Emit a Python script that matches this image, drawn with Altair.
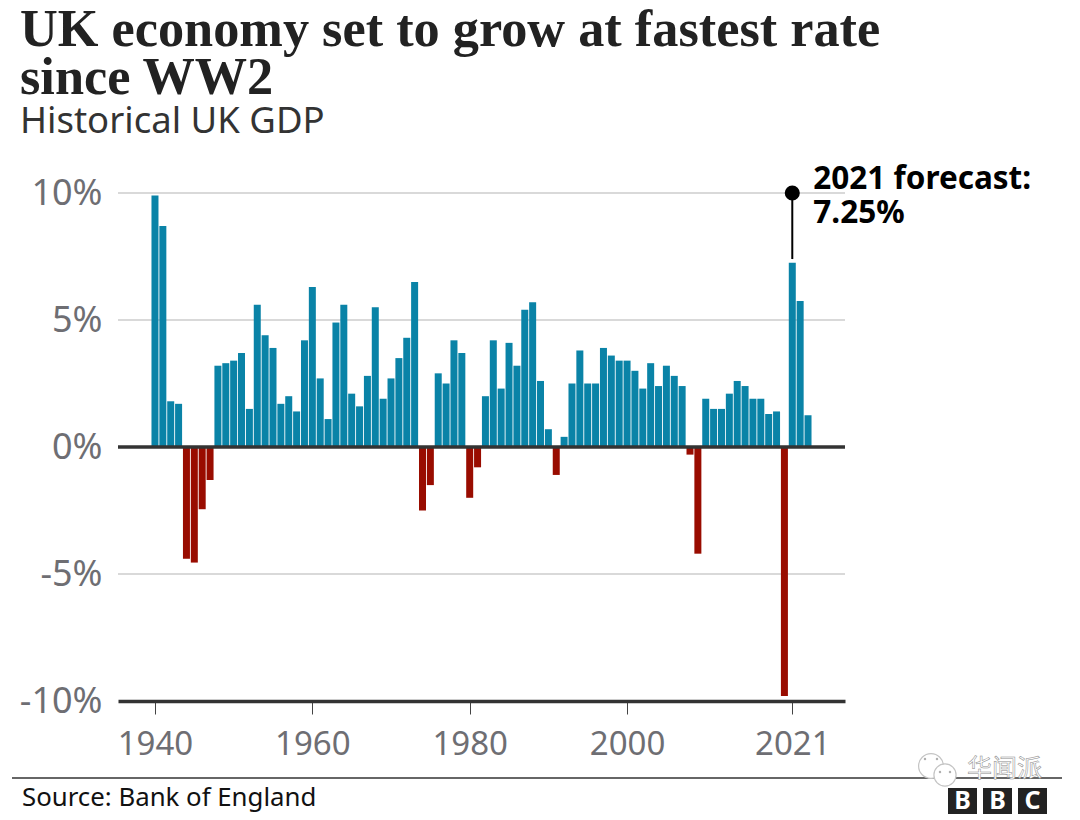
import altair as alt
import pandas as pd

first_year = 1940
growth = [9.9, 8.7, 1.8, 1.7, -4.4, -4.55, -2.45, -1.3, 3.2, 3.3,
          3.4, 3.7, 1.5, 5.6, 4.4, 3.9, 1.7, 2.0, 1.4, 4.2,
          6.3, 2.7, 1.1, 4.9, 5.6, 2.1, 1.6, 2.8, 5.5, 1.9,
          2.7, 3.5, 4.3, 6.5, -2.5, -1.5, 2.9, 2.5, 4.2, 3.7,
          -2.0, -0.8, 2.0, 4.2, 2.3, 4.1, 3.2, 5.4, 5.7, 2.6,
          0.7, -1.1, 0.4, 2.5, 3.8, 2.5, 2.5, 3.9, 3.6, 3.4,
          3.4, 3.0, 2.3, 3.3, 2.4, 3.2, 2.8, 2.4, -0.3, -4.2,
          1.9, 1.5, 1.5, 2.1, 2.6, 2.4, 1.9, 1.9, 1.3, 1.4,
          -9.8, 7.25, 5.75, 1.25]
years = [first_year + i for i in range(len(growth))]
x_ticks = [1940, 1960, 1980, 2000, 2021]
y_ticks = [-10, -5, 0, 5, 10]
grey_lines = [-5, 5, 10]
dark_lines = [0]

BLUE = "#0a83a7"
RED = "#990c00"
GREY = "#6e6e73"
SANS = "Noto Sans"

df = pd.DataFrame({"year": years, "growth": growth})
x_scale = alt.Scale(domain=[1935.3, 2027.7], nice=False, zero=False, padding=0)
y_scale = alt.Scale(domain=[-10, 10], nice=False, zero=False)
x_axis = alt.Axis(values=x_ticks, format="d", grid=False, title=None,
                  domainColor="#333333", domainWidth=3.5,
                  tickColor="#444444", tickWidth=1, tickSize=13,
                  labelFont=SANS, labelFontSize=33, labelColor=GREY,
                  labelPadding=14, labelFlush=False, labelOverlap=False)
y_axis = alt.Axis(values=y_ticks, labelExpr="datum.value + '%'", title=None,
                  grid=False, domain=False, ticks=False,
                  labelFont=SANS, labelFontSize=36, labelColor=GREY,
                  labelPadding=16)


def ex(field):
    return alt.X(field, scale=x_scale, axis=x_axis, title=None)


def ey(field):
    return alt.Y(field, scale=y_scale, axis=y_axis, title=None)


bars = alt.Chart(df).mark_bar(size=7).encode(
    x=ex("year:Q"), y=ey("growth:Q"), y2=alt.datum(0),
    color=alt.condition("datum.growth < 0", alt.value(RED), alt.value(BLUE)),
)

grid = alt.Chart(pd.DataFrame({"v": grey_lines})).mark_rule(color="#cccccc", strokeWidth=1.6).encode(
    y=ey("v:Q"))
zero = alt.Chart(pd.DataFrame({"v": dark_lines})).mark_rule(color="#333333", strokeWidth=3.5).encode(
    y=ey("v:Q"))

note = pd.DataFrame({"year": [2021], "top": [10], "end": [7.4]})
stem = alt.Chart(note).mark_rule(color="#000000", strokeWidth=2).encode(
    x=ex("year:Q"), y=ey("top:Q"), y2="end:Q")
dot = alt.Chart(note).mark_point(filled=True, color="#000000", size=227, opacity=1).encode(
    x=ex("year:Q"), y=ey("top:Q"))
note_text = alt.Chart(note).mark_text(
    text=["2021 forecast:", "7.25%"], align="left", baseline="middle", dx=21, dy=-13,
    lineHeight=34, font=SANS, fontWeight="bold", fontSize=31.5, color="#000000").encode(
    x=ex("year:Q"), y=ey("top:Q"))

one = pd.DataFrame({"a": [0]})
footer_rule = alt.Chart(one).mark_rule(color="#333333", strokeWidth=1.4).encode(
    x=alt.value(-106), x2=alt.value(944), y=alt.value(585))
source = alt.Chart(one).mark_text(
    text="Source: Bank of England", align="left", baseline="middle",
    font=SANS, fontSize=25.8, color="#111111").encode(x=alt.value(-96), y=alt.value(605))

logo = []
for left, letter in [(830, "B"), (865, "B"), (900, "C")]:
    logo.append(alt.Chart(one).mark_rect(color="#222222").encode(
        x=alt.value(left), x2=alt.value(left + 29), y=alt.value(595), y2=alt.value(621)))
    logo.append(alt.Chart(one).mark_text(
        text=letter, align="center", baseline="middle", font=SANS, fontWeight="bold",
        fontSize=25, color="#ffffff").encode(x=alt.value(left + 14.5), y=alt.value(608)))

wm = []
for cx, cy, size in [(813, 573, 616), (827, 582, 491)]:
    wm.append(alt.Chart(one).mark_point(shape="circle", filled=True, fill="#ffffff", stroke="#c4c4c4",
                                        strokeWidth=1.2, size=size, opacity=1).encode(
        x=alt.value(cx), y=alt.value(cy)))
for cx, cy in [(807, 566), (819, 566), (822, 579), (832, 579)]:
    wm.append(alt.Chart(one).mark_point(shape="circle", filled=True, color="#b0b0b0", size=6, opacity=1).encode(
        x=alt.value(cx), y=alt.value(cy)))
wm_text = alt.Chart(one).mark_text(
    text="华闻派", align="left", baseline="middle", font="Noto Sans CJK SC",
    fontSize=25, color="#ffffff", stroke="#8a8a8a", strokeWidth=0.5).encode(x=alt.value(849), y=alt.value(576))

chart = alt.layer(grid, bars, zero, stem, dot, note_text, footer_rule, source, *wm, wm_text, *logo).properties(
    width=727, height=508,
    padding={"left": 110, "top": 185, "right": 225, "bottom": 115},
    autosize=alt.AutoSizeParams(type="none"),
    title=alt.TitleParams(
        text=["UK economy set to grow at fastest rate", "since WW2"],
        subtitle="Historical UK GDP",
        anchor="start", frame="group", dx=-98, offset=23,
        font="Liberation Serif", fontWeight="bold", fontSize=52.3, lineHeight=48, color="#222222",
        subtitleFont=SANS, subtitleFontSize=36.5, subtitleColor="#333333", subtitlePadding=-2),
).configure_view(stroke=None)

chart.save("out.html", embed_options={"renderer": "svg", "actions": False})
